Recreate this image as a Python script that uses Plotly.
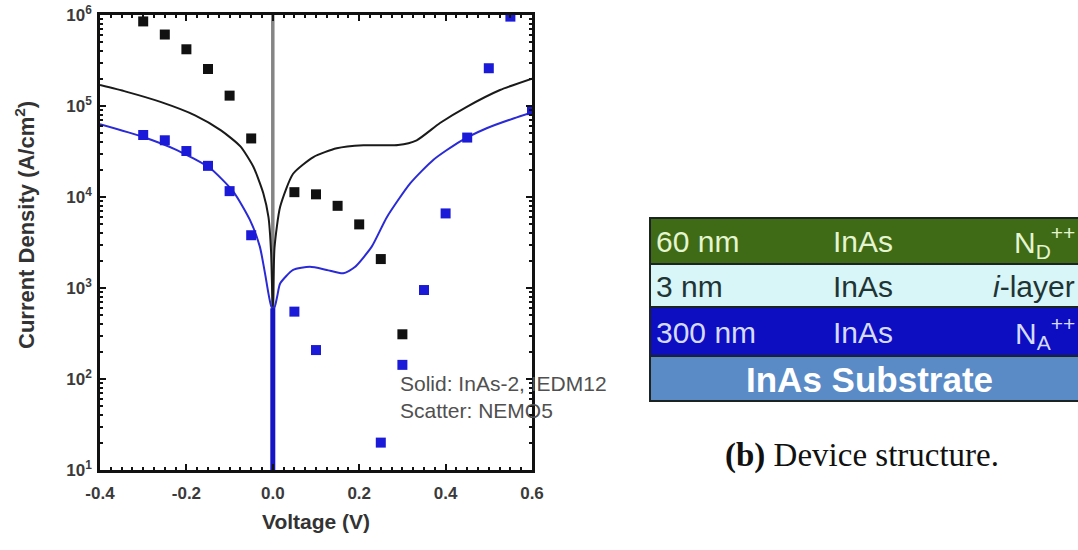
import plotly.graph_objects as go

W, H = 1078, 550

# ---------------- data ----------------
# Scatter (NEMO5) points
black_pts_v = [-0.30, -0.25, -0.20, -0.15, -0.10, -0.05, 0.05, 0.10, 0.15, 0.20, 0.25, 0.30]
black_pts_j = [8.5e5, 6.1e5, 4.2e5, 2.55e5, 1.3e5, 4.4e4, 1.13e4, 1.07e4, 8.0e3, 5.0e3, 2.08e3, 310]

blue_pts_v = [-0.30, -0.25, -0.20, -0.15, -0.10, -0.05, 0.05, 0.10, 0.25, 0.30, 0.35, 0.40, 0.45, 0.50, 0.55, 0.60]
blue_pts_j = [4.8e4, 4.2e4, 3.2e4, 2.2e4, 1.16e4, 3.8e3, 550, 208, 20, 143, 950, 6.6e3, 4.5e4, 2.6e5, 9.6e5, 9.0e4]

# Solid (InAs-2, IEDM12) curves
black_line_v = [-0.40, -0.34, -0.26, -0.18, -0.12, -0.075, -0.045, -0.022, -0.010, -0.004, 0.0,
                0.004, 0.017, 0.047, 0.094, 0.148, 0.21, 0.29, 0.333, 0.387, 0.449, 0.526, 0.60]
black_line_j = [1.7e5, 1.44e5, 1.11e5, 7.9e4, 5.4e4, 3.6e4, 2.15e4, 1.1e4, 6.0e3, 2.5e3, 5.6e2,
                2.8e3, 7.8e3, 1.8e4, 2.75e4, 3.43e4, 3.7e4, 3.72e4, 4.2e4, 6.5e4, 9.8e4, 1.5e5, 2.0e5]

blue_line_v = [-0.40, -0.30, -0.222, -0.145, -0.091, -0.053, -0.030, -0.018, -0.003,
               0.003, 0.010, 0.017, 0.047, 0.086, 0.125, 0.163, 0.19, 0.229, 0.264, 0.318,
               0.372, 0.433, 0.495, 0.557, 0.60]
blue_line_j = [6.3e4, 4.57e4, 3.28e4, 2.07e4, 1.14e4, 5.6e3, 2.85e3, 1.45e3, 620,
               600, 800, 1.12e3, 1.58e3, 1.71e3, 1.58e3, 1.45e3, 1.7e3, 2.85e3, 6.0e3, 1.41e4,
               2.57e4, 4.07e4, 5.7e4, 7.3e4, 8.5e4]

# zero-bias drop of the blue curve (J -> 0 at V = 0)
blue_zero_v = [0.0, 0.0]
blue_zero_j = [1.0, 600]

x_tickvals = [-0.4, -0.2, 0.0, 0.2, 0.4, 0.6]
x_ticktext = ["-0.4", "-0.2", "0.0", "0.2", "0.4", "0.6"]
y_tickvals = [1e1, 1e2, 1e3, 1e4, 1e5, 1e6]
y_ticktext = ["10<sup>1</sup>", "10<sup>2</sup>", "10<sup>3</sup>", "10<sup>4</sup>", "10<sup>5</sup>", "10<sup>6</sup>"]

# Device structure layers (top to bottom)
layer_thickness = ["60 nm", "3 nm", "300 nm"]
layer_material = ["InAs", "InAs", "InAs"]
layer_doping = ["N<sub>D</sub><sup>++</sup>", "<i>i</i>-layer", "N<sub>A</sub><sup>++</sup>"]
substrate_label = "<b>InAs Substrate</b>"
layer_colors = ["#3f6a16", "#d8f6f8", "#0d0dc2", "#5a8bc7"]
layer_text_colors = ["#e4f5cf", "#1f3434", "#d4dbff", "#ffffff"]

# ---------------- figure ----------------
px0, px1 = 100, 532   # plot area in pixels
py0, py1 = 15, 470

def fx(p):
    return p / W

def fy(p):
    return 1 - p / H

fig = go.Figure()

fig.add_trace(go.Scatter(x=black_line_v, y=black_line_j, mode="lines",
                         line=dict(color="#1a1a1a", width=2, shape="spline", smoothing=0.6),
                         showlegend=False, hoverinfo="skip"))
fig.add_trace(go.Scatter(x=blue_line_v, y=blue_line_j, mode="lines",
                         line=dict(color="#2a2ad6", width=2, shape="spline", smoothing=0.6),
                         showlegend=False, hoverinfo="skip"))
fig.add_trace(go.Scatter(x=blue_zero_v, y=blue_zero_j, mode="lines",
                         line=dict(color="#1515c8", width=5),
                         showlegend=False, hoverinfo="skip"))
fig.add_trace(go.Scatter(x=black_pts_v, y=black_pts_j, mode="markers",
                         marker=dict(symbol="square", size=10, color="#111111"),
                         showlegend=False))
fig.add_trace(go.Scatter(x=blue_pts_v, y=blue_pts_j, mode="markers",
                         marker=dict(symbol="square", size=10, color="#1a1ad8"),
                         showlegend=False, cliponaxis=True))

shapes = []
# gray zero-voltage line
shapes.append(dict(type="line", xref="x", yref="y domain", x0=0, x1=0, y0=0, y1=1,
                   line=dict(color="#858585", width=3.5), layer="below"))

# device structure box
box_x0, box_x1 = 650, 1100
row_edges = [218, 264, 307, 356, 401]
for i, c in enumerate(layer_colors):
    shapes.append(dict(type="rect", xref="paper", yref="paper",
                       x0=fx(box_x0), x1=fx(box_x1),
                       y0=fy(row_edges[i + 1]), y1=fy(row_edges[i]),
                       fillcolor=c, line=dict(color="#1b2420", width=2)))

annotations = []
row_font = 30
for i in range(3):
    yc = fy((row_edges[i] + row_edges[i + 1]) / 2 + 1)
    col = layer_text_colors[i]
    annotations.append(dict(xref="paper", yref="paper", x=fx(654), y=yc, xanchor="left", yanchor="middle",
                            text=layer_thickness[i], showarrow=False,
                            font=dict(family="Liberation Sans", size=row_font, color=col)))
    annotations.append(dict(xref="paper", yref="paper", x=fx(831), y=yc, xanchor="left", yanchor="middle",
                            text=layer_material[i], showarrow=False,
                            font=dict(family="Liberation Sans", size=row_font, color=col)))
    annotations.append(dict(xref="paper", yref="paper", x=fx(1077), y=yc, xanchor="right", yanchor="middle",
                            text=layer_doping[i], showarrow=False,
                            font=dict(family="Liberation Sans", size=row_font, color=col)))
annotations.append(dict(xref="paper", yref="paper", x=fx(869), y=fy((row_edges[3] + row_edges[4]) / 2 + 1),
                        xanchor="center", yanchor="middle", text=substrate_label, showarrow=False,
                        font=dict(family="Liberation Sans", size=35, color=layer_text_colors[3])))

# caption
annotations.append(dict(xref="paper", yref="paper", x=fx(862), y=fy(455), xanchor="center", yanchor="middle",
                        text="<b>(b)</b> Device structure.", showarrow=False,
                        font=dict(family="Liberation Serif", size=33, color="#111111")))

# legend-like text
annotations.append(dict(xref="paper", yref="paper", x=fx(398), y=fy(383), xanchor="left", yanchor="middle",
                        text="Solid: InAs-2, IEDM12", showarrow=False,
                        font=dict(family="Liberation Sans", size=21, color="#505050")))
annotations.append(dict(xref="paper", yref="paper", x=fx(398), y=fy(410), xanchor="left", yanchor="middle",
                        text="Scatter: NEMO5", showarrow=False,
                        font=dict(family="Liberation Sans", size=21, color="#505050")))

# axis titles
annotations.append(dict(xref="paper", yref="paper", x=fx(316), y=fy(521), xanchor="center", yanchor="middle",
                        text="<b>Voltage (V)</b>", showarrow=False,
                        font=dict(family="Liberation Sans", size=21, color="#333333")))
annotations.append(dict(xref="paper", yref="paper", x=fx(25), y=fy(225), xanchor="center", yanchor="middle",
                        text="<b>Current Density (A/cm<sup>2</sup>)</b>", showarrow=False, textangle=-90,
                        font=dict(family="Liberation Sans", size=22, color="#333333")))

fig.update_layout(
    width=W, height=H,
    margin=dict(l=0, r=0, t=0, b=0, autoexpand=False),
    paper_bgcolor="white", plot_bgcolor="white",
    shapes=shapes, annotations=annotations,
    xaxis=dict(domain=[fx(px0), fx(px1)], range=[-0.4, 0.6], automargin=False,
               tickvals=x_tickvals, ticktext=x_ticktext,
               ticks="inside", ticklen=6, tickwidth=2, tickcolor="#111",
               minor=dict(ticks="inside", ticklen=3.5, tickwidth=1.5, dtick=0.025, tickcolor="#111"),
               showline=True, linewidth=2.5, linecolor="#111", mirror="allticks",
               showgrid=False, zeroline=False,
               tickfont=dict(family="Liberation Sans", size=17, color="#3a3a3a", weight="bold"),
               ticklabelstandoff=6),
    yaxis=dict(domain=[fy(py1), fy(py0)], type="log", range=[1, 6], automargin=False,
               tickvals=y_tickvals, ticktext=y_ticktext,
               ticks="inside", ticklen=6, tickwidth=2, tickcolor="#111",
               minor=dict(ticks="inside", ticklen=3.5, tickwidth=1.5, dtick="D1", tickcolor="#111"),
               showline=True, linewidth=2.5, linecolor="#111", mirror="allticks",
               showgrid=False, zeroline=False,
               tickfont=dict(family="Liberation Sans", size=17, color="#3a3a3a", weight="bold"),
               ticklabelstandoff=2),
)

fig.write_html("out.html")
